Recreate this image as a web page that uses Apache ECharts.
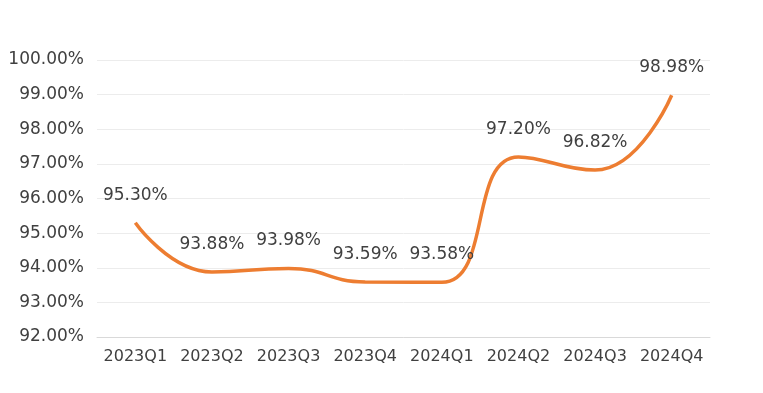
<!DOCTYPE html>
<html><head><meta charset="utf-8">
<script src="https://cdn.jsdelivr.net/npm/echarts@6/dist/echarts.min.js"></script>
<style>html,body{margin:0;padding:0;background:#fff}#c{width:763px;height:393px}</style>
</head><body><div id="c"></div>
<script>
const categories = ['2023Q1','2023Q2','2023Q3','2023Q4','2024Q1','2024Q2','2024Q3','2024Q4'];
const values = [95.30, 93.88, 93.98, 93.59, 93.58, 97.20, 96.82, 98.98];
const yTicks = {min: 92, max: 100, interval: 1};
const font = '"DejaVu Sans", sans-serif';
const chart = echarts.init(document.getElementById('c'));
chart.setOption({
  animation: false,
  grid: {left: 97, right: 53, top: 60, bottom: 56},
  xAxis: {
    type: 'category', data: categories, boundaryGap: true,
    axisLine: {lineStyle: {color: '#d9d9d9', width: 1}},
    axisTick: {show: false},
    axisLabel: {color: '#404040', fontSize: 16, fontFamily: font, margin: 12, interval: 0}
  },
  yAxis: {
    type: 'value', min: yTicks.min, max: yTicks.max, interval: yTicks.interval,
    axisLine: {show: false}, axisTick: {show: false},
    splitLine: {lineStyle: {color: '#ececec', width: 1}},
    axisLabel: {color: '#404040', fontSize: 17, fontFamily: font, margin: 13,
      formatter: v => v.toFixed(2) + '%'}
  },
  series: [{
    type: 'line', data: values, smooth: 0.5, showSymbol: true, symbol: 'circle', symbolSize: 2,
    itemStyle: {color: 'rgba(0,0,0,0)', borderWidth: 0},
    lineStyle: {color: '#ED7D31', width: 3.5},
    label: {show: true, position: 'top', distance: 18, color: '#404040', fontSize: 17,
      fontFamily: font, formatter: p => p.value.toFixed(2) + '%'}
  }]
});
</script></body></html>
